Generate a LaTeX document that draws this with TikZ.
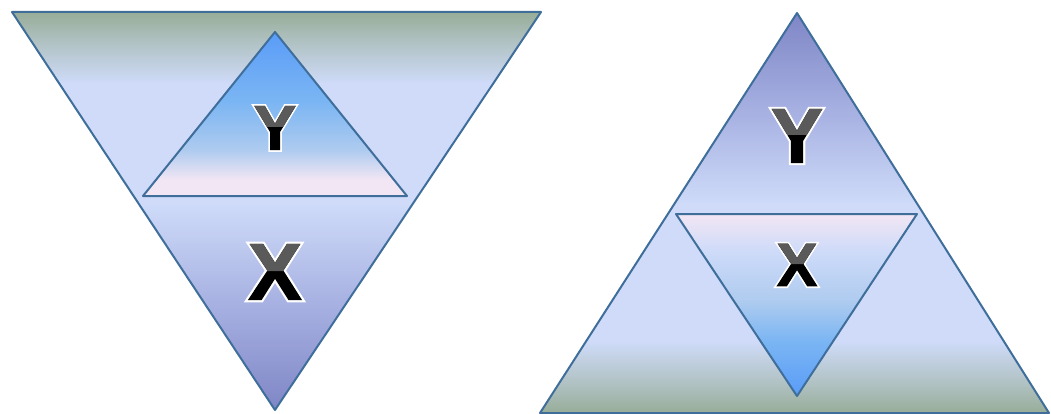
\documentclass[tikz,border=0pt]{standalone}
\usepackage{fontspec}
\usepackage{xcolor}
\usepackage{tikz}
\newfontfamily\fuenteLetra{Liberation Sans Bold}[FakeBold=1.5]
\newfontfamily\fuenteBorde{Liberation Sans Bold}[FakeBold=7]
\definecolor{borde}{HTML}{3F6E9B}
\definecolor{verdeGris}{HTML}{97AD98}
\definecolor{verdeMedio}{HTML}{B2C3C6}
\definecolor{lavanda}{HTML}{CFDBF9}
\definecolor{lavandaMedia}{HTML}{A9B3E3}
\definecolor{violeta}{HTML}{7F86C6}
\definecolor{azulVivo}{HTML}{5A9CF8}
\definecolor{azulCielo}{HTML}{7AB5F3}
\definecolor{azulPalido}{HTML}{AECBEF}
\definecolor{rosado}{HTML}{F2E6F4}
\definecolor{grisLetra}{HTML}{5A5A5A}
% 25bp = pie de la figura, 75bp = cabeza
\pgfdeclareverticalshading{sombraInv}{100bp}{color(0bp)=(violeta);
  color(25bp)=(violeta); color(39bp)=(lavandaMedia); color(51bp)=(lavanda);
  color(66bp)=(lavanda); color(71bp)=(verdeMedio); color(75bp)=(verdeGris);
  color(100bp)=(verdeGris)}
\pgfdeclareverticalshading{sombraPir}{100bp}{color(0bp)=(verdeGris);
  color(25bp)=(verdeGris); color(29bp)=(verdeMedio); color(34bp)=(lavanda);
  color(51bp)=(lavanda); color(62bp)=(lavandaMedia); color(75bp)=(violeta);
  color(100bp)=(violeta)}
\pgfdeclareverticalshading{sombraY}{100bp}{color(0bp)=(rosado);
  color(25bp)=(rosado); color(30bp)=(rosado); color(39bp)=(azulPalido);
  color(54bp)=(azulCielo); color(75bp)=(azulVivo); color(100bp)=(azulVivo)}
\pgfdeclareverticalshading{sombraX}{100bp}{color(0bp)=(azulVivo);
  color(25bp)=(azulVivo); color(40bp)=(azulCielo); color(51bp)=(azulPalido);
  color(65bp)=(lavanda); color(75bp)=(rosado); color(100bp)=(rosado)}

\begin{document}
\begin{tikzpicture}[x=1pt,y=-1pt,
    tri/.style={draw=borde,line width=2pt,line join=round,shade},
    contorno/.style={inner sep=0pt,text=white},
    letra/.style={inner sep=0pt,text=black},
    gris/.style={inner sep=0pt,text=grisLetra}]
  \useasboundingbox (0,0) rectangle (1051,414);
  % esquinas
  \coordinate (iA) at (12,12);
  \coordinate (iB) at (541,12);
  \coordinate (iC) at (275,410);
  \coordinate (yA) at (275,32);
  \coordinate (yB) at (407,196);
  \coordinate (yC) at (143,196);
  \coordinate (dA) at (797,13);
  \coordinate (dB) at (1049,413);
  \coordinate (dC) at (540,413);
  \coordinate (xA) at (676,214);
  \coordinate (xB) at (917,214);
  \coordinate (xC) at (797,396);
  % triangulos
  \path[tri,shading=sombraInv] (iA) -- (iB) -- (iC) -- cycle;
  \path[tri,shading=sombraY] (yA) -- (yB) -- (yC) -- cycle;
  \path[tri,shading=sombraPir] (dA) -- (dB) -- (dC) -- cycle;
  \path[tri,shading=sombraX] (xA) -- (xB) -- (xC) -- cycle;
  % letras: contorno blanco, cuerpo negro, mitad alta gris
  \node[contorno,font=\fuenteBorde\fontsize{63}{63}\selectfont] (bordeY1) at (275,128) {Y};
  \node[contorno,font=\fuenteBorde\fontsize{80}{80}\selectfont] (bordeX1) at (275,272) {X};
  \node[contorno,font=\fuenteBorde\fontsize{77}{77}\selectfont] (bordeY2) at (797,136) {Y};
  \node[contorno,font=\fuenteBorde\fontsize{61}{61}\selectfont] (bordeX2) at (797,265) {X};
  \node[letra,font=\fuenteLetra\fontsize{63}{63}\selectfont] (letraY1) at (bordeY1) {Y};
  \node[letra,font=\fuenteLetra\fontsize{80}{80}\selectfont] (letraX1) at (bordeX1) {X};
  \node[letra,font=\fuenteLetra\fontsize{77}{77}\selectfont] (letraY2) at (bordeY2) {Y};
  \node[letra,font=\fuenteLetra\fontsize{61}{61}\selectfont] (letraX2) at (bordeX2) {X};
  \begin{scope}
    \clip (200,60) rectangle (350,127) (200,200) rectangle (350,271)
          (720,60) rectangle (870,135) (720,200) rectangle (870,264);
    \node[gris,font=\fuenteLetra\fontsize{63}{63}\selectfont] (brilloY1) at (letraY1) {Y};
    \node[gris,font=\fuenteLetra\fontsize{80}{80}\selectfont] (brilloX1) at (letraX1) {X};
    \node[gris,font=\fuenteLetra\fontsize{77}{77}\selectfont] (brilloY2) at (letraY2) {Y};
    \node[gris,font=\fuenteLetra\fontsize{61}{61}\selectfont] (brilloX2) at (letraX2) {X};
  \end{scope}
\end{tikzpicture}
\end{document}
